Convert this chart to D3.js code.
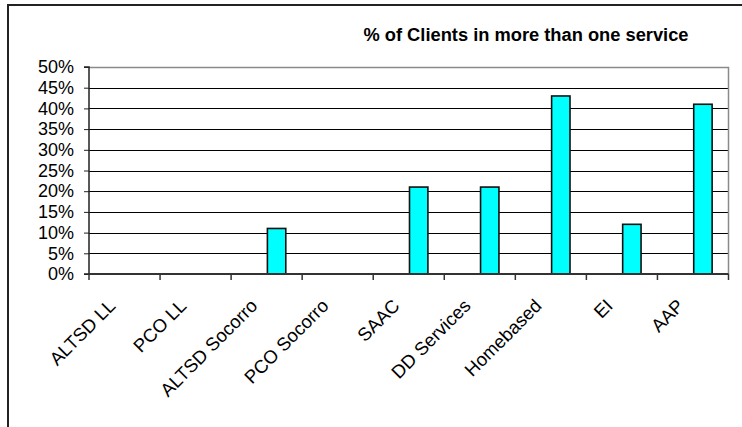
<!DOCTYPE html>
<html>
<head>
<meta charset="utf-8">
<script src="https://cdn.jsdelivr.net/npm/d3@7"></script>
<style>
  html, body { margin: 0; padding: 0; background: #fff; }
  svg { display: block; }
  text { font-family: "Liberation Sans", Arial, sans-serif; fill: #000; }
</style>
</head>
<body>
<svg id="chart" width="742" height="427"></svg>
<script>
const title = "% of Clients in more than one service";
const categories = ["ALTSD LL", "PCO LL", "ALTSD Socorro", "PCO Socorro", "SAAC", "DD Services", "Homebased", "EI", "AAP"];
const values = [0, 0, 0.11, 0, 0.21, 0.21, 0.43, 0.12, 0.41];
const yTicks = [0, 0.05, 0.10, 0.15, 0.20, 0.25, 0.30, 0.35, 0.40, 0.45, 0.50];

const svg = d3.select("#chart");
const W = 742, H = 427;
const plot = { left: 89, right: 728.5, top: 67, bottom: 274 };

// outer frame (only top and left visible)
svg.append("path")
  .attr("d", `M8,${H + 2} L8,5 L${W + 2},5`)
  .attr("fill", "none").attr("stroke", "#222").attr("stroke-width", 2);

const x = d3.scaleBand().domain(categories).range([plot.left, plot.right]).padding(0);
const y = d3.scaleLinear().domain([0, 0.5]).range([plot.bottom, plot.top]);

// gridlines
svg.append("g").selectAll("line")
  .data(yTicks.filter(t => t > 0 && t < 0.5))
  .join("line")
  .attr("x1", plot.left).attr("x2", plot.right)
  .attr("y1", d => Math.round(y(d)) + 0.5).attr("y2", d => Math.round(y(d)) + 0.5)
  .attr("stroke", "#000").attr("stroke-width", 1);

// plot border top & right (gray)
svg.append("path")
  .attr("d", `M${plot.left},${Math.round(plot.top) + 0.5} L${plot.right},${Math.round(plot.top) + 0.5} L${plot.right},${plot.bottom}`)
  .attr("fill", "none").attr("stroke", "#8a8a8a").attr("stroke-width", 1.5);

// bars
const bw = x.bandwidth() * 0.28;
svg.append("g").selectAll("rect")
  .data(categories.map((c, i) => ({ c, v: values[i] })).filter(d => d.v > 0))
  .join("rect")
  .attr("x", d => x(d.c) + x.bandwidth() / 2 + 0.75)
  .attr("width", bw - 1.5)
  .attr("y", d => y(d.v))
  .attr("height", d => y(0) - y(d.v))
  .attr("fill", "#00ffff")
  .attr("stroke", "#111").attr("stroke-width", 1.6);

// y axis
const yAxis = d3.axisLeft(y).tickValues(yTicks).tickFormat(d3.format(".0%")).tickSize(5).tickPadding(10);
const gy = svg.append("g").attr("transform", `translate(${plot.left},0)`).call(yAxis);
gy.select(".domain").attr("stroke", "#222").attr("stroke-width", 1.5).attr("d", `M-5,${plot.top}H0V${plot.bottom}H-5`);
gy.selectAll(".tick line").attr("stroke", "#222");
gy.selectAll(".tick text").style("font-size", "18px").attr("fill", "#000");

// x axis
const bounds = categories.map(c => x(c)).concat([plot.right]);
const gx = svg.append("g");
gx.append("line").attr("x1", plot.left).attr("x2", plot.right)
  .attr("y1", plot.bottom).attr("y2", plot.bottom)
  .attr("stroke", "#333").attr("stroke-width", 2);
gx.selectAll("line.tk").data(bounds).join("line").attr("class", "tk")
  .attr("x1", d => d).attr("x2", d => d)
  .attr("y1", plot.bottom).attr("y2", plot.bottom + 6)
  .attr("stroke", "#333").attr("stroke-width", 1.5);
gx.selectAll("text").data(categories).join("text")
  .attr("transform", d => `translate(${x(d) + x.bandwidth() / 2 - 8},${plot.bottom + 33}) rotate(-45)`)
  .attr("text-anchor", "end")
  .style("font-size", "18.5px")
  .text(d => d);

// title
svg.append("text")
  .attr("x", 526).attr("y", 41)
  .attr("text-anchor", "middle")
  .style("font-size", "18.3px").style("font-weight", "bold")
  .text(title);
</script>
</body>
</html>
